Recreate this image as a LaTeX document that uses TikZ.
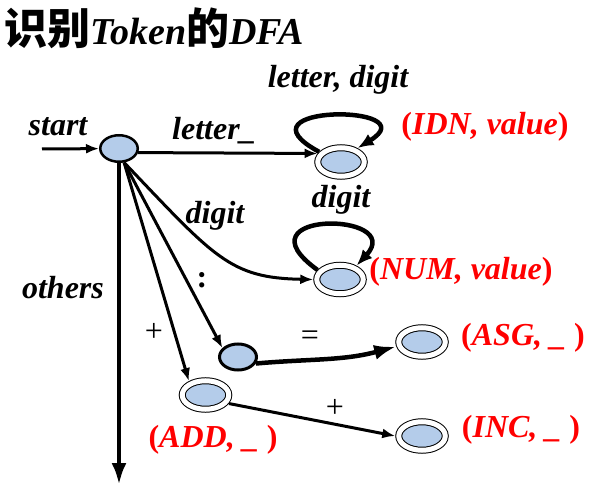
\documentclass[tikz,border=0pt]{standalone}
\usepackage{fontspec}
\setmainfont{Liberation Serif}
\newfontfamily\cjk{Noto Sans CJK SC}
\usetikzlibrary{arrows.meta,shapes.geometric}
\definecolor{stblue}{RGB}{180,204,234}
\newcommand{\tk}[1]{{\upshape(}#1{\upshape)}}
\newcommand{\zh}[1]{{\cjk\fontsize{43}{46}\selectfont #1}}

\begin{document}
\begin{tikzpicture}[x=1pt,y=1pt,>={Latex[length=13pt,width=10pt]},
  st/.style={ellipse,draw,fill=stblue,line width=2.5pt,minimum width=37.5pt,minimum height=26.5pt,inner sep=0pt},
  acc/.style={ellipse,draw,fill=stblue,line width=1pt,double,double distance=5pt,minimum width=46.5pt,minimum height=28.5pt,inner sep=0pt,outer sep=3.5pt},
  tr/.style={->,line width=3pt},
  bigtr/.style={-{Latex[length=22pt,width=15pt]},line width=4.5pt},
  looptr/.style={-{Latex[length=16pt,width=13pt]},line width=4.5pt},
  lab/.style={font=\fontsize{32}{36}\selectfont\bfseries\itshape},
  tok/.style={lab,text=red},
  sym/.style={font=\fontsize{32}{36}\selectfont}]
              \useasboundingbox (0,0) rectangle (609,493);
              \node[anchor=west,font=\fontsize{38}{42}\selectfont\bfseries] (title) at (1,465) {\zh{识别}\textit{Token}\zh{的}\textit{DFA}};

              \node[st] (s0) at (119,344.5) {};
              \node[acc] (idn) at (341,331) {};
              \node[acc] (num) at (340,213.5) {};
              \node[st,line width=3pt,minimum width=37pt,minimum height=26pt] (col) at (238,136) {};
              \node[acc] (asg) at (422,151) {};
              \node[acc] (add) at (205.5,98) {};
              \node[acc] (inc) at (422,57) {};
              \coordinate (begin) at (42,344);
              \coordinate (fall) at (119,8);

              \node[lab] (lstart) at (58,366) {start};
              \node[lab] (lletter) at (214,362) {letter\_};
              \node[lab] (lld) at (338,413) {letter, digit};
              \node[lab] (ldig1) at (341,293) {digit};
              \node[lab] (ldig2) at (215,277) {digit};
              \node[lab] (lothers) at (63,205) {others};
              \node[sym,font=\fontsize{32}{36}\selectfont\bfseries] (lcol) at (202,213) {:};
              \node[sym] (leq) at (310,155) {=};
              \node[sym] (lplus1) at (154,161) {+};
              \node[sym] (lplus2) at (335,85) {+};
              \node[tok] (tidn) at (485,366) {\tk{IDN, value}};
              \node[tok] (tnum) at (461,221) {\tk{NUM, value}};
              \node[tok] (tasg) at (523,155) {\tk{ASG, \_ }};
              \node[tok] (tinc) at (521,63) {\tk{INC, \_ }};
              \node[tok] (tadd) at (213,53) {\tk{ADD, \_ }};

              \draw[tr] (begin) -- (s0);
              \draw[tr] (s0.-12) -- (idn.160);
              \draw[looptr] (idn.155) .. controls +(-89,48) and +(72,44) .. (idn.40);
              \draw[looptr] (num.157) .. controls +(-83,60) and +(50,54) .. (num.40);
              \draw[tr] (s0.-70) .. controls (215,235) and (230,215) .. (num.west);
              \draw[tr] (s0.-70) -- (col.150);
              \draw[tr] (s0.-70) -- (add.140);
              \draw[bigtr] (s0.south) -- (fall);
              \draw[bigtr] (col.-20) to[out=5,in=195] (asg.190);
              \draw[tr] (add.-20) -- (inc.west);
            \end{tikzpicture}
\end{document}
